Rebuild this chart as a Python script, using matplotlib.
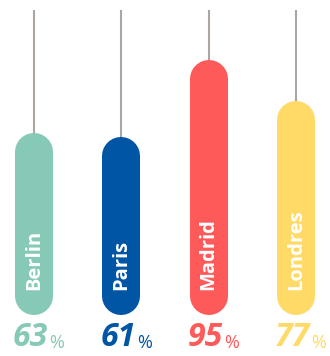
import matplotlib
matplotlib.use("Agg")
import matplotlib.pyplot as plt

# city shares
cities = ["Berlin", "Paris", "Madrid", "Londres"]
values = [63, 61, 95, 77]
colors = ["#86C9B6", "#0055A5", "#FF5A5A", "#FFDA66"]

plt.rcParams['font.family'] = ['Open Sans', 'DejaVu Sans']

fig = plt.figure(figsize=(3.3, 3.56), dpi=100)
ax = fig.add_axes([0, 60 / 356, 1, 286 / 356])
ax.set_xlim(-0.39, 3.39)
ax.set_ylim(0, 125)
ax.axis('off')

for i, (city, v, c) in enumerate(zip(cities, values, colors)):
    # thin stem up to the top of the plot
    ax.plot([i, i], [0, 125], color="#ADA5A1", lw=1.5, zorder=1,
            solid_capstyle='butt', clip_on=False)
    # pill shaped bar: thick line with round caps
    ax.plot([i, i], [0, v], color=c, lw=27.4, zorder=2,
            solid_capstyle='round', clip_on=False)
    ax.annotate(city, xy=(i, 0), xytext=(0, 4), textcoords='offset points',
                rotation=90, ha='center', va='bottom', color='white',
                fontsize=14.5, fontweight='bold', zorder=3)
    num = ax.annotate(str(v), xy=(i, 0), xytext=(-2.5, -42),
                      textcoords='offset points', ha='center', va='bottom',
                      color=c, fontsize=23, fontweight='bold',
                      fontstyle='italic', annotation_clip=False)
    ax.annotate('%', xy=(1, 0), xycoords=num, xytext=(1, 2),
                textcoords='offset points', ha='left', va='bottom',
                color=c, fontsize=13, annotation_clip=False)

fig.savefig("out.png", dpi=100)
